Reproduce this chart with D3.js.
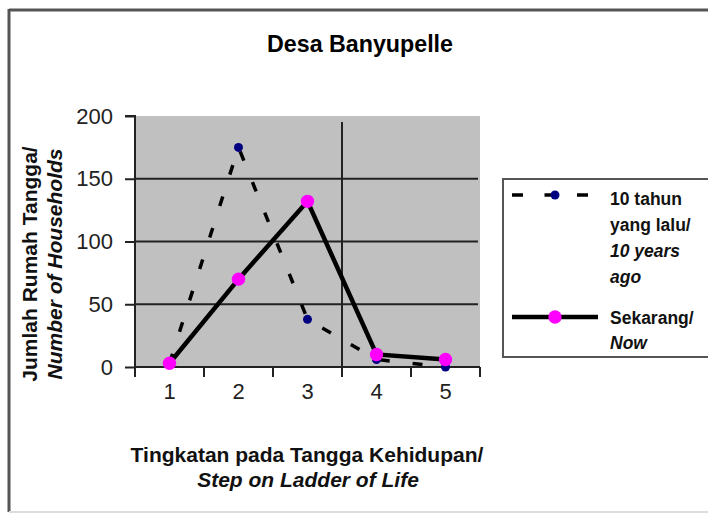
<!DOCTYPE html>
<html><head><meta charset="utf-8">
<script src="https://cdn.jsdelivr.net/npm/d3@7"></script>
<style>
html,body{margin:0;padding:0;background:#fff;}
svg{display:block;font-family:"Liberation Sans",Arial,sans-serif;}
</style></head>
<body><svg id="c" width="708" height="514"></svg>
<script>
const title = "Desa Banyupelle";
const steps = [1, 2, 3, 4, 5];
const tenYearsAgo = [3, 175, 38, 6, 0];
const sekarang = [3, 70, 132, 10, 6];
const yTicks = [0, 50, 100, 150, 200];
const yLabel = ["Jumlah Rumah Tangga/", "Number of Households"];
const xLabel = ["Tingkatan pada Tangga Kehidupan/", "Step on Ladder of Life"];
const legend1 = ["10 tahun", "yang lalu/", "10 years", "ago"];
const legend2 = ["Sekarang/", "Now"];

const svg = d3.select("#c");
const L = 135, R = 480, T = 116, B = 367;

// outer frame
svg.append("line").attr("x1",9).attr("x2",720).attr("y1",10).attr("y2",10).attr("stroke","#555").attr("stroke-width",3);
svg.append("line").attr("x1",9).attr("x2",9).attr("y1",9).attr("y2",512).attr("stroke","#555").attr("stroke-width",3);
svg.append("line").attr("x1",9).attr("x2",720).attr("y1",512).attr("y2",512).attr("stroke","#ddd").attr("stroke-width",2);

svg.append("text").attr("x",360).attr("y",52).attr("text-anchor","middle")
  .attr("font-size",24).attr("font-weight","bold").attr("textLength",186).attr("lengthAdjust","spacingAndGlyphs")
  .text(title);

const x = d3.scaleBand().domain(steps).range([L, R]);
const y = d3.scaleLinear().domain([0, 200]).range([B, T]);

svg.append("rect").attr("x",L).attr("y",T).attr("width",R-L).attr("height",B-T).attr("fill","#c0c0c0");

// gridlines
svg.append("g").selectAll("line").data(yTicks.filter(d=>d>0 && d<200)).join("line")
  .attr("x1",L).attr("x2",R-2).attr("y1",d=>y(d)).attr("y2",d=>y(d)).attr("stroke","#222").attr("stroke-width",2);
// vertical line at boundary
svg.append("line").attr("x1",x(4)).attr("x2",x(4)).attr("y1",T+6).attr("y2",B).attr("stroke","#222").attr("stroke-width",2);

// y axis
const ya = svg.append("g").attr("transform",`translate(${L},0)`)
  .call(d3.axisLeft(y).tickValues(yTicks).tickSize(10).tickPadding(12));
ya.select(".domain").attr("stroke","#222").attr("stroke-width",2).attr("d",`M-10,${T}H0V${B+10}`);
ya.selectAll(".tick line").attr("stroke","#222").attr("stroke-width",2);
ya.selectAll(".tick text").attr("font-size",22).attr("fill","#222").attr("font-family","Liberation Sans, Arial, sans-serif");

// x axis
const xa = svg.append("g").attr("transform",`translate(0,${B})`)
  .call(d3.axisBottom(x).tickSize(0).tickPadding(16));
xa.select(".domain").attr("stroke","#222").attr("stroke-width",2).attr("d",`M${L},0H${R}`);
xa.selectAll(".tick text").attr("font-size",22).attr("fill","#222").attr("font-family","Liberation Sans, Arial, sans-serif");
xa.append("g").selectAll("line").data(steps.map(s=>x(s)+x.bandwidth()).concat([L])).join("line")
  .attr("x1",d=>d).attr("x2",d=>d).attr("y1",0).attr("y2",10).attr("stroke","#222").attr("stroke-width",2);

// axis titles
const yl = svg.append("text").attr("transform","translate(37,264) rotate(-90)").attr("text-anchor","middle").attr("font-size",21).attr("fill","#111");
yl.append("tspan").attr("x",0).attr("dy",0).attr("font-weight","bold").text(yLabel[0]);
yl.append("tspan").attr("x",0).attr("dy",25).attr("font-style","italic").attr("font-weight","bold").text(yLabel[1]);

svg.append("text").attr("x",307).attr("y",462).attr("text-anchor","middle").attr("font-size",21).attr("font-weight","bold").attr("fill","#111").text(xLabel[0]);
svg.append("text").attr("x",308).attr("y",487).attr("text-anchor","middle").attr("font-size",21).attr("font-style","italic").attr("font-weight","bold").attr("fill","#111").text(xLabel[1]);

const cx = d => x(d) + x.bandwidth()/2;
const line = d3.line().x((d,i)=>cx(steps[i])).y(d=>y(d));

svg.append("path").datum(tenYearsAgo).attr("d",line).attr("fill","none").attr("stroke","#000").attr("stroke-width",3.5).attr("stroke-dasharray","10,23");
svg.append("path").datum(sekarang).attr("d",line).attr("fill","none").attr("stroke","#000").attr("stroke-width",4.5);

svg.append("g").selectAll("circle").data(tenYearsAgo).join("circle")
  .attr("cx",(d,i)=>cx(steps[i])).attr("cy",d=>y(d)).attr("r",4.5).attr("fill","#000080");
svg.append("g").selectAll("path").data(sekarang).join("path")
  .attr("transform",(d,i)=>`translate(${cx(steps[i])},${y(d)})`).attr("d",d3.symbol().type(d3.symbolCircle).size(140)).attr("fill","#ff00ff");

// legend
svg.append("rect").attr("x",503).attr("y",179).attr("width",230).attr("height",178).attr("fill","#fff").attr("stroke","#555").attr("stroke-width",2);
svg.append("line").attr("x1",512).attr("x2",590).attr("y1",195).attr("y2",195).attr("stroke","#000").attr("stroke-width",3.5).attr("stroke-dasharray","11,21.5");
svg.append("circle").attr("cx",555).attr("cy",195).attr("r",4.5).attr("fill","#000080");
svg.append("line").attr("x1",512).attr("x2",598).attr("y1",317).attr("y2",317).attr("stroke","#000").attr("stroke-width",4.5);
svg.append("path").attr("transform","translate(555,317)").attr("d",d3.symbol().type(d3.symbolCircle).size(140)).attr("fill","#ff00ff");

const lt = svg.append("g").attr("font-size",17.5).attr("fill","#111");
legend1.forEach((t,i)=>{
  lt.append("text").attr("x",610).attr("y",205+i*26).attr("font-weight","bold").attr("font-style", i>=2?"italic":"normal").text(t);
});
legend2.forEach((t,i)=>{
  lt.append("text").attr("x",610).attr("y",324+i*25).attr("font-weight","bold").attr("font-style", i>=1?"italic":"normal").text(t);
});
</script></body></html>
